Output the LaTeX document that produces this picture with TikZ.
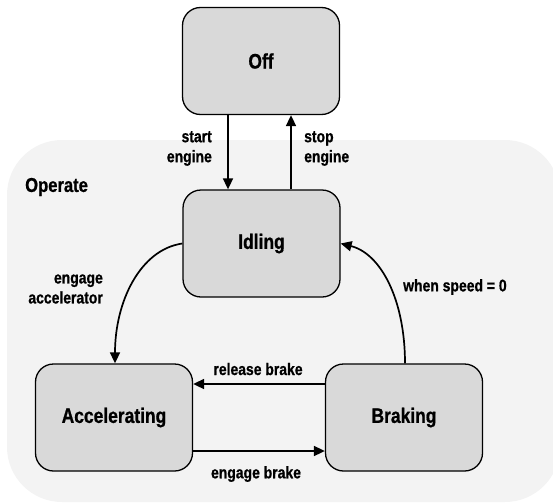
\documentclass[tikz,border=0pt]{standalone}
\usepackage{fontspec}
\setmainfont[FakeStretch=0.83, BoldFeatures={FakeBold=0.8}]{Liberation Sans}
\usetikzlibrary{arrows.meta}
\definecolor{regiongray}{HTML}{F3F3F3}
\definecolor{stategray}{HTML}{D9D9D9}
\begin{document}
\begin{tikzpicture}[x=1pt,y=-1pt,
  state/.style={draw=black, line width=1.3pt, fill=stategray, rounded corners=18pt,
    minimum width=157pt, minimum height=107pt, inner sep=0pt,
    font=\bfseries\fontsize{21}{24}\selectfont},
  trans/.style={line width=1.7pt, -{Triangle[length=11pt,width=10pt]}},
  lbl/.style={inner sep=0pt, font=\bfseries\fontsize{16.8}{20}\selectfont},
  region/.style={inner sep=0pt, font=\bfseries\fontsize{20}{22}\selectfont}]
\useasboundingbox (0,0) rectangle (553,503);

% composite state background
\fill[regiongray, rounded corners=55pt] (7,140) rectangle (560,502);
\node[region, anchor=west] (operate) at (25,187) {Operate};

% states
\node[state] (off) at (261,61) {Off};
\node[state] (idling) at (261.5,243.5) {Idling};
\node[state] (acc) at (114,417.5) {Accelerating};
\node[state] (brk) at (404,417.5) {Braking};

% transitions
\draw[trans] ([xshift=-33pt]off.south) -- ([xshift=-33.5pt]idling.north);
\draw[trans] ([xshift=29.5pt]idling.north) -- ([xshift=30pt]off.south);
\draw[trans] (idling.west) .. controls +(-42,6) and +(0,-62) .. ([xshift=1pt]acc.north);
\draw[trans] ([xshift=1pt]brk.north) .. controls +(0,-64) and +(40,10) .. (idling.east);
\draw[trans] ([yshift=33.5pt]brk.west) -- ([yshift=33.5pt]acc.east);
\draw[trans] ([yshift=-33.5pt]acc.east) -- ([yshift=-33.5pt]brk.west);

% transition labels
\node[lbl, anchor=east, align=right] (lstart) at (212,148.5) {start\\engine};
\node[lbl, anchor=west, align=left] (lstop) at (304,148.5) {stop\\engine};
\node[lbl, anchor=east, align=right] (lacc) at (103,289) {engage\\accelerator};
\node[lbl, anchor=west] (lspeed) at (403,287) {when speed = 0};
\node[lbl] (lrel) at (258,369) {release brake};
\node[lbl] (leng) at (256,474) {engage brake};
\end{tikzpicture}
\end{document}
